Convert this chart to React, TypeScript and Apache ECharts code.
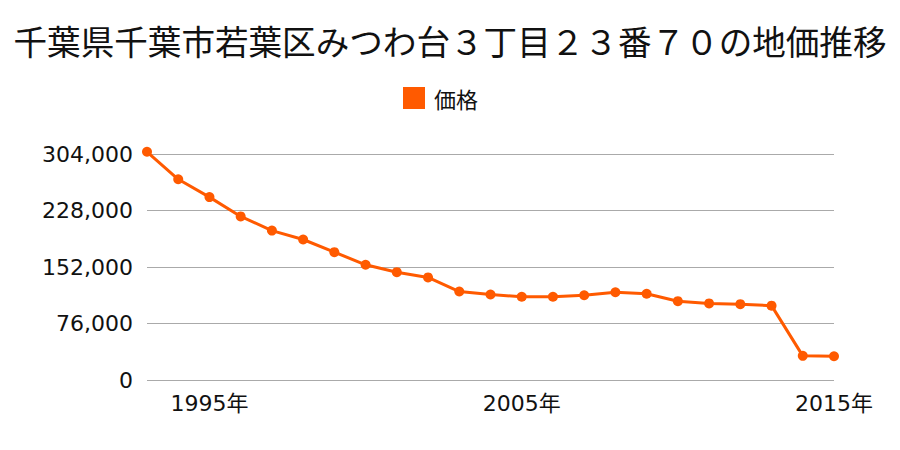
import React, { useEffect, useRef } from "react";
import * as echarts from "echarts";

const titleText = "千葉県千葉市若葉区みつわ台３丁目２３番７０の地価推移";
const seriesName = "価格";
const years = [
  "1993", "1994", "1995", "1996", "1997", "1998", "1999", "2000", "2001", "2002", "2003", "2004",
  "2005", "2006", "2007", "2008", "2009", "2010", "2011", "2012", "2013", "2014", "2015",
];
const prices = [
  307000, 270000, 246000, 220000, 201000, 189000, 172000, 155000, 145000, 138000, 119000, 115000,
  112000, 112000, 114000, 118000, 116000, 106000, 103000, 102000, 100000, 32500, 32000,
];
const yTicks = [0, 76000, 152000, 228000, 304000];
const shownYears = ["1995", "2005", "2015"];

const FONT = "'Noto Sans CJK JP', 'Noto Sans', sans-serif";
const NUMFONT = "'DejaVu Sans', 'Noto Sans CJK JP', sans-serif";
const ORANGE = "#ff5a00";

export default function App() {
  const ref = useRef<HTMLDivElement>(null);
  useEffect(() => {
    if (!ref.current) return;
    const chart = echarts.init(ref.current, null, { renderer: "svg" });
    chart.setOption({
      animation: false,
      textStyle: { fontFamily: FONT },
      title: {
        text: titleText,
        left: "center",
        top: 19,
        textStyle: { fontSize: 33.6, fontWeight: "normal", color: "#111", fontFamily: FONT },
      },
      legend: {
        top: 82,
        left: 398,
        icon: "rect",
        itemWidth: 22,
        itemHeight: 22,
        itemGap: 10,
        textStyle: { fontSize: 22, color: "#111", fontFamily: FONT, padding: [0, 0, 0, 4] },
        data: [seriesName],
      },
      grid: { left: 147, right: 66, top: 154, bottom: 70, containLabel: false },
      xAxis: {
        type: "category",
        data: years,
        boundaryGap: false,
        axisLine: { show: false },
        axisTick: { show: false },
        splitLine: { show: false },
        axisLabel: {
          interval: (_i: number, v: string) => shownYears.includes(v),
          formatter: (v: string) => v + "年",
          fontSize: 22,
          color: "#111",
          margin: 12,
          fontFamily: NUMFONT,
        },
      },
      yAxis: {
        type: "value",
        min: 0,
        max: yTicks[yTicks.length - 1],
        interval: 76000,
        axisLine: { show: false },
        axisTick: { show: false },
        splitLine: { lineStyle: { color: "#aaaaaa", width: 1 } },
        axisLabel: {
          fontSize: 22,
          color: "#111",
          margin: 14,
          fontFamily: NUMFONT,
          formatter: (v: number) => v.toLocaleString("en-US"),
        },
      },
      series: [
        {
          name: seriesName,
          type: "line",
          data: prices,
          clip: false,
          symbol: "circle",
          symbolSize: 10,
          itemStyle: { color: ORANGE },
          lineStyle: { color: ORANGE, width: 3 },
        },
      ],
    });
    return () => chart.dispose();
  }, []);
  return (
    <div
      ref={ref}
      style={{ position: "absolute", left: 0, top: 0, width: 900, height: 450 }}
    />
  );
}
